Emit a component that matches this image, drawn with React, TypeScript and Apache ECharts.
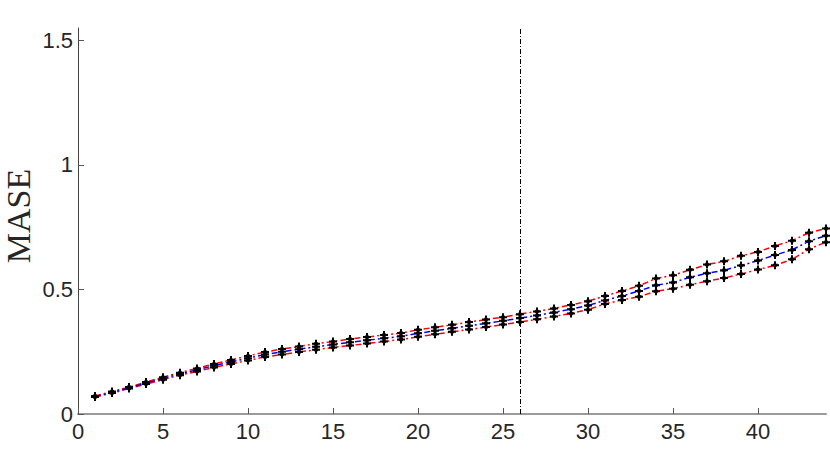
import React, { useEffect, useRef } from "react";
import * as echarts from "echarts";

const steps = [1, 2, 3, 4, 5, 6, 7, 8, 9, 10, 11, 12, 13, 14, 15, 16, 17, 18, 19, 20, 21, 22, 23, 24, 25, 26, 27, 28, 29, 30, 31, 32, 33, 34, 35, 36, 37, 38, 39, 40, 41, 42, 43, 44];

const meanMase = [0.070, 0.087, 0.105, 0.124, 0.143, 0.161, 0.177, 0.194, 0.209, 0.224, 0.239, 0.250, 0.260, 0.270, 0.279, 0.288, 0.296, 0.304, 0.312, 0.324, 0.334, 0.344, 0.354, 0.364, 0.374, 0.385, 0.396, 0.408, 0.421, 0.436, 0.456, 0.474, 0.494, 0.517, 0.528, 0.549, 0.565, 0.577, 0.596, 0.616, 0.638, 0.659, 0.694, 0.716];

const upperMase = [0.072, 0.090, 0.108, 0.128, 0.148, 0.166, 0.183, 0.201, 0.217, 0.233, 0.249, 0.261, 0.271, 0.282, 0.291, 0.301, 0.309, 0.317, 0.325, 0.338, 0.348, 0.358, 0.369, 0.379, 0.389, 0.401, 0.412, 0.424, 0.438, 0.453, 0.474, 0.494, 0.515, 0.544, 0.557, 0.579, 0.600, 0.613, 0.635, 0.651, 0.675, 0.696, 0.728, 0.745];

const lowerMase = [0.068, 0.084, 0.102, 0.120, 0.138, 0.156, 0.171, 0.187, 0.201, 0.215, 0.229, 0.239, 0.249, 0.258, 0.267, 0.275, 0.283, 0.291, 0.299, 0.310, 0.320, 0.330, 0.339, 0.349, 0.359, 0.369, 0.380, 0.392, 0.404, 0.419, 0.442, 0.458, 0.471, 0.493, 0.503, 0.519, 0.533, 0.546, 0.562, 0.580, 0.597, 0.621, 0.662, 0.690];

const xTicks = [0, 5, 10, 15, 20, 25, 30, 35, 40];
const yTicks = [0, 0.5, 1, 1.5];
const splitStep = 26;
const yTitle = "MASE";

const markerPath =
  "path://M3,0 L5,0 L5,2 L6,3 L8,3 L8,5 L6,5 L5,6 L5,8 L3,8 L3,6 L2,5 L0,5 L0,3 L2,3 L3,2 Z";

function pairs(values: number[]) {
  return steps.map((s, i) => [s, values[i]]);
}

export default function App() {
  const ref = useRef<HTMLDivElement>(null);
  useEffect(() => {
    if (!ref.current) return;
    const chart = echarts.init(ref.current, undefined, { renderer: "svg" });
    const lineBase = (color: string) => ({
      type: "line" as const,
      symbol: markerPath,
      symbolSize: 8,
      itemStyle: { color: "#000000" },
      lineStyle: { color, width: 1.5, type: [6, 3, 2, 3] },
      z: 3,
    });
    chart.setOption({
      animation: false,
      backgroundColor: "#ffffff",
      grid: {
        left: 78,
        right: 4,
        top: 28,
        bottom: 42,
        containLabel: false,
        outerBoundsMode: "none",
      },
      graphic: [
        {
          type: "text",
          x: 18,
          y: 216,
          rotation: Math.PI / 2,
          style: {
            text: yTitle,
            fontFamily: "Liberation Serif",
            fontSize: 34,
            fill: "#262626",
            align: "center",
            verticalAlign: "middle",
          },
        },
      ],
      xAxis: {
        type: "value",
        min: 0,
        max: 44,
        interval: 5,
        splitLine: { show: false },
        axisLine: { show: true, onZero: false, lineStyle: { color: "#9a9a9a", width: 2 } },
        axisTick: {
          show: true,
          inside: true,
          length: 6,
          customValues: xTicks,
          lineStyle: { color: "#555555", width: 1 },
        },
        axisLabel: {
          customValues: xTicks,
          color: "#262626",
          fontSize: 22,
          fontFamily: "Liberation Sans",
          margin: 6,
        },
      },
      yAxis: {
        type: "value",
        min: 0,
        max: 1.55,
        interval: 0.5,
        splitLine: { show: false },
        axisLine: { show: true, lineStyle: { color: "#444444", width: 1 } },
        axisTick: {
          show: true,
          inside: true,
          length: 6,
          customValues: yTicks,
          lineStyle: { color: "#555555", width: 1 },
        },
        axisLabel: {
          customValues: yTicks,
          color: "#262626",
          fontSize: 22,
          fontFamily: "Liberation Sans",
          margin: 5,
        },
      },
      series: [
        {
          ...lineBase("#ff0000"),
          name: "upper",
          data: pairs(upperMase),
          markLine: {
            silent: true,
            symbol: "none",
            label: { show: false },
            lineStyle: { color: "#000000", width: 1, type: [5, 2, 1, 2] },
            data: [{ xAxis: splitStep }],
          },
        },
        { ...lineBase("#ff0000"), name: "lower", data: pairs(lowerMase) },
        { ...lineBase("#0000ff"), name: "mean", data: pairs(meanMase), z: 4 },
      ],
    });
    return () => chart.dispose();
  }, []);
  return (
    <div
      ref={ref}
      style={{ position: "fixed", left: 0, top: 0, width: 830, height: 456 }}
    />
  );
}
